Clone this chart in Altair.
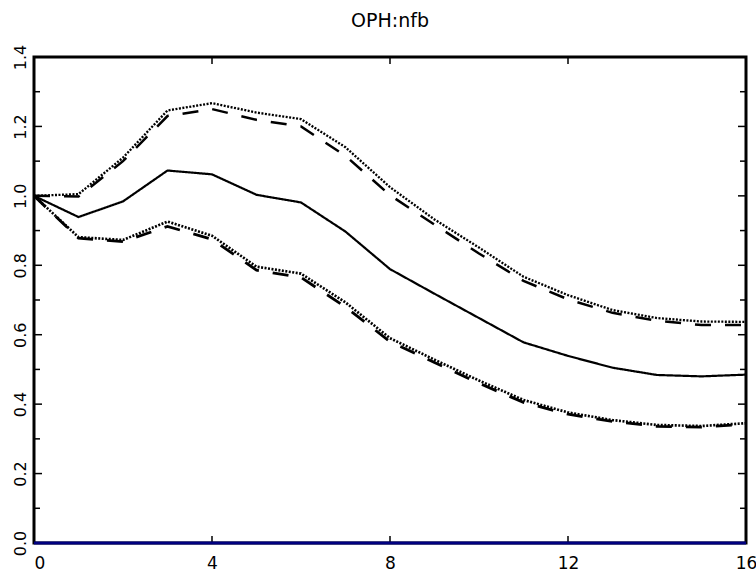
import altair as alt
import pandas as pd

# ---- data ----
steps = list(range(17))
center = [1.0, 0.939, 0.984, 1.073, 1.062, 1.003, 0.981, 0.897, 0.789, 0.718,
          0.648, 0.578, 0.539, 0.505, 0.484, 0.480, 0.485]
upper_dot = [1.0, 1.005, 1.110, 1.246, 1.267, 1.240, 1.221, 1.140, 1.025, 0.932,
             0.851, 0.767, 0.714, 0.671, 0.648, 0.638, 0.637]
upper_dash = [1.0, 0.998, 1.100, 1.230, 1.250, 1.219, 1.200, 1.115, 1.002, 0.917,
              0.834, 0.755, 0.702, 0.663, 0.640, 0.628, 0.628]
lower_dot = [1.0, 0.881, 0.873, 0.926, 0.885, 0.796, 0.776, 0.693, 0.590, 0.528,
             0.468, 0.412, 0.376, 0.354, 0.340, 0.337, 0.345]
lower_dash = [1.0, 0.878, 0.868, 0.912, 0.875, 0.786, 0.765, 0.680, 0.580, 0.520,
              0.460, 0.405, 0.371, 0.350, 0.336, 0.334, 0.342]

x_labels = [0, 4, 8, 12, 16]
x_inner_ticks = [4, 8, 12]
y_labels = [0.0, 0.2, 0.4, 0.6, 0.8, 1.0, 1.2, 1.4]
y_major_ticks = [0.2, 0.4, 0.6, 0.8, 1.0, 1.2]
y_minor_ticks = [0.1, 0.3, 0.5, 0.7, 0.9, 1.1, 1.3]

series_names = ["center", "upper_dot", "upper_dash", "lower_dot", "lower_dash"]
series_values = [center, upper_dot, upper_dash, lower_dot, lower_dash]

rows = []
for name, vals in zip(series_names, series_values):
    for t, v in zip(steps, vals):
        rows.append({"t": t, "v": v, "series": name})
df = pd.DataFrame(rows)

W, H = 712, 486
xscale = alt.Scale(domain=[0, 16], nice=False, zero=False)
yscale = alt.Scale(domain=[0, 1.4], nice=False, zero=True)

xaxis = alt.Axis(values=x_labels, format="d", grid=False, domain=False,
                 ticks=False, tickSize=0, labelPadding=12,
                 labelFont="DejaVu Sans", labelFontSize=17, labelColor="black",
                 labelFlush=False, labelOverlap=False,
                 labelAlign={"condition": {"test": "datum.value == 0", "value": "left"},
                             "value": "center"})
yaxis = alt.Axis(values=y_labels, format=".1f", grid=False, domain=False,
                 ticks=False, tickSize=0, labelPadding=6, labelAngle=270,
                 labelAlign="center", labelBaseline="bottom",
                 labelFont="DejaVu Sans", labelFontSize=16, labelColor="black",
                 labelFlush=False, labelOverlap=False)

xenc = alt.X("t:Q", scale=xscale, title=None, axis=xaxis)
yenc = alt.Y("v:Q", scale=yscale, title=None, axis=yaxis)

lines = alt.Chart(df).mark_line(color="black").encode(
    x=xenc,
    y=yenc,
    detail="series:N",
    strokeDash=alt.StrokeDash("series:N", legend=None,
                              scale=alt.Scale(domain=series_names,
                                              range=[[1, 0], [2, 1.5], [16, 14], [2, 1.5], [16, 14]])),
    strokeWidth=alt.StrokeWidth("series:N", legend=None,
                                scale=alt.Scale(domain=series_names,
                                                range=[2.2, 2.8, 1.8, 2.8, 1.8])),
)

ymaj = pd.DataFrame({"v": y_major_ticks})
ymin = pd.DataFrame({"v": y_minor_ticks})
xin = pd.DataFrame({"t": x_inner_ticks})

tick_style = dict(color="black", strokeWidth=1.5)
left_major = alt.Chart(ymaj).mark_rule(**tick_style).encode(y=yenc, x=alt.value(0), x2=alt.value(8))
left_minor = alt.Chart(ymin).mark_rule(**tick_style).encode(y=yenc, x=alt.value(0), x2=alt.value(6))
right_major = alt.Chart(ymaj).mark_rule(**tick_style).encode(y=yenc, x=alt.value(W), x2=alt.value(W - 8))
right_minor = alt.Chart(ymin).mark_rule(**tick_style).encode(y=yenc, x=alt.value(W), x2=alt.value(W - 6))
top_ticks = alt.Chart(xin).mark_rule(**tick_style).encode(x=xenc, y=alt.value(0), y2=alt.value(7))
bottom_ticks = alt.Chart(xin).mark_rule(**tick_style).encode(x=xenc, y=alt.value(H), y2=alt.value(H - 7))

bottom_line = alt.Chart(pd.DataFrame({"v": [0.0]})).mark_rule(color="#000080", strokeWidth=3).encode(y=yenc)

chart = alt.layer(
    lines, left_major, left_minor, right_major, right_minor, top_ticks, bottom_ticks, bottom_line
).properties(
    width=W, height=H,
    title=alt.TitleParams("OPH:nfb", font="DejaVu Sans", fontSize=19, fontWeight="normal",
                          color="black", anchor="middle", offset=13),
    autosize=alt.AutoSizeParams(type="none"),
    padding={"left": 34, "top": 57, "right": 10, "bottom": 31},
    background="white",
).configure_view(stroke="black", strokeWidth=3)

chart.save("out.html", embed_options={"renderer": "svg", "actions": False})
